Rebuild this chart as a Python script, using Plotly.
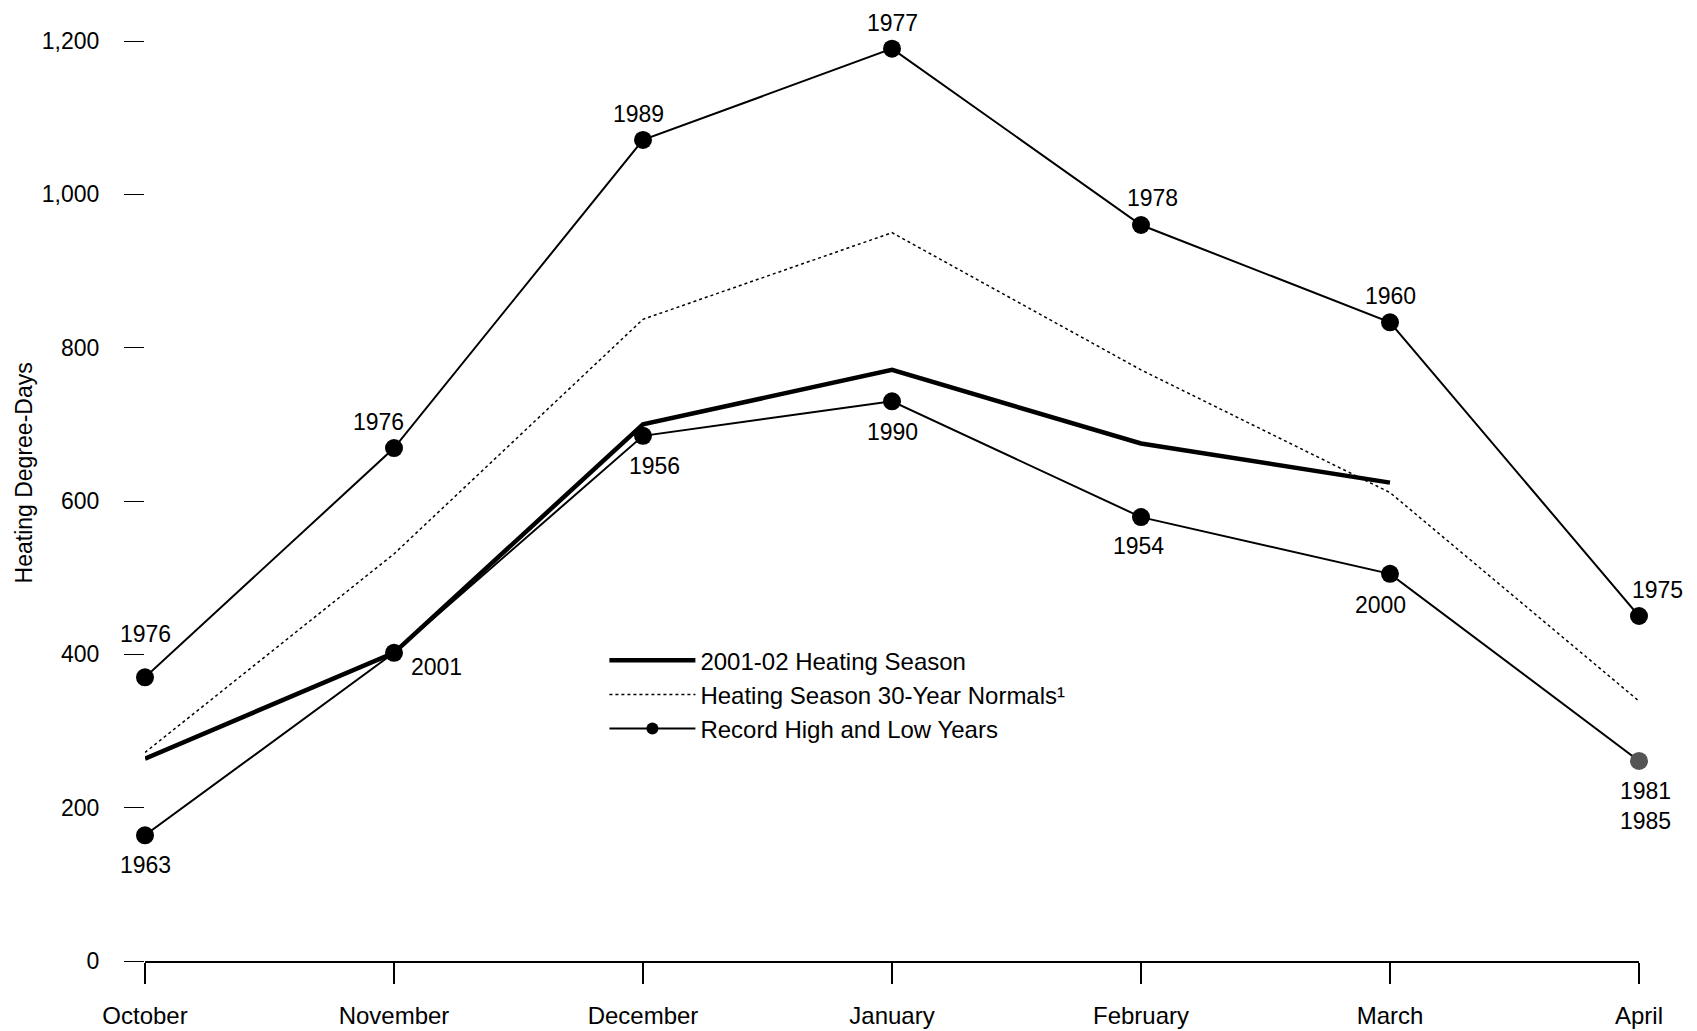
import plotly.graph_objects as go

months = ["October", "November", "December", "January", "February", "March", "April"]

season_2001 = [264, 402, 700, 771, 675, 624]
normals = [272, 531, 837, 950, 771, 611, 339]
record_high = [370, 669, 1071, 1190, 960, 833, 450]
record_low = [164, 402, 685, 730, 579, 505, 261]
high_years = ["1976", "1976", "1989", "1977", "1978", "1960", "1975"]
low_years = ["1963", "2001", "1956", "1990", "1954", "2000", "1981<br>1985"]

y_ticks = [0, 200, 400, 600, 800, 1000, 1200]
y_tick_labels = ["0", "200", "400", "600", "800", "1,000", "1,200"]

# label offsets (pixels) - styling only
high_dx = [0, -16, -5, 0, 11, 0, 18]
high_dy = [43, 26, 26, 26, 27, 26, 26]
low_dx = [0, 42, 11, 0, -3, -10, 6]
low_dy = [-30, -14, -30, -31, -29, -31, -45]

FONT = "Liberation Sans, Arial, sans-serif"
FS = 23

fig = go.Figure()
fig.add_trace(go.Scatter(
    x=months[:len(season_2001)], y=season_2001, mode="lines",
    name="2001-02 Heating Season",
    line=dict(color="black", width=4.5), cliponaxis=False))
fig.add_trace(go.Scatter(
    x=months, y=normals, mode="lines",
    name="Heating Season 30-Year Normals\u00b9",
    line=dict(color="black", width=1.5, dash="dot"), cliponaxis=False))
# legend-only entry for the record series (no data points)
fig.add_trace(go.Scatter(
    x=[None], y=[None], mode="lines+markers",
    name="Record High and Low Years", legendgroup="rec",
    line=dict(color="black", width=2),
    marker=dict(color="black", size=12)))
fig.add_trace(go.Scatter(
    x=months, y=record_high, mode="lines+markers",
    name="Record High and Low Years", legendgroup="rec", showlegend=False,
    line=dict(color="black", width=2),
    marker=dict(color="black", size=18), cliponaxis=False))
low_colors = ["black"] * (len(record_low) - 1) + ["#555555"]
fig.add_trace(go.Scatter(
    x=months, y=record_low, mode="lines+markers",
    name="Record High and Low Years", legendgroup="rec", showlegend=False,
    line=dict(color="black", width=2),
    marker=dict(color=low_colors, size=18), cliponaxis=False))

annotations = []
for i, m in enumerate(months):
    annotations.append(dict(x=m, y=record_high[i], text=high_years[i], showarrow=False,
                            xshift=high_dx[i], yshift=high_dy[i],
                            font=dict(family=FONT, size=FS, color="black")))
    annotations.append(dict(x=m, y=record_low[i], text=low_years[i], showarrow=False,
                            xshift=low_dx[i], yshift=low_dy[i],
                            font=dict(family=FONT, size=FS, color="black")))
annotations.append(dict(xref="paper", yref="paper", x=-0.091, y=0.530,
                        text="Heating Degree-Days", textangle=-90, showarrow=False,
                        font=dict(family=FONT, size=23, color="black")))

fig.update_layout(
    width=1681, height=1023,
    margin=dict(l=137, r=50, t=33, b=70, autoexpand=False),
    paper_bgcolor="white", plot_bgcolor="white",
    font=dict(family=FONT, size=FS, color="black"),
    showlegend=True,
    legend=dict(x=0.3075, y=0.351, xanchor="left", yanchor="top",
                bgcolor="rgba(0,0,0,0)", itemwidth=86,
                font=dict(family=FONT, size=24), tracegroupgap=0),
    annotations=annotations,
    xaxis=dict(type="category", categoryorder="array", categoryarray=months,
               range=[0, 6], showgrid=False, zeroline=False, automargin=False,
               showline=True, linecolor="black", linewidth=2,
               ticks="outside", ticklen=21, tickwidth=1.5, tickcolor="black",
               ticklabelstandoff=11, tickfont=dict(size=24)),
    yaxis=dict(range=[0, 1200], tickvals=y_ticks, ticktext=y_tick_labels,
               showgrid=False, zeroline=False, showline=False, automargin=False,
               ticks="outside", ticklen=20, tickwidth=1, tickcolor="black",
               ticklabelstandoff=20, tickfont=dict(size=23)),
)

fig.write_html("out.html")
